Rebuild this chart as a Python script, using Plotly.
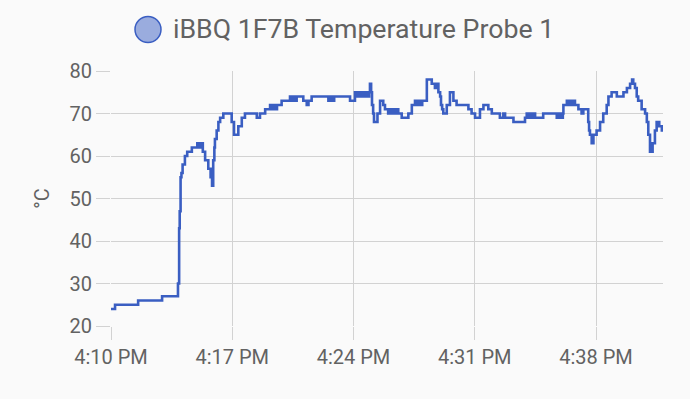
import pandas as pd
import plotly.graph_objects as go

# ---------------- data ----------------
start_time = "2024-05-18 16:10:00"
end_seconds = 1912  # last sample, seconds after start

seconds_after_start = [
    0, 14, 94, 177, 232, 236, 238, 241, 244, 248, 256, 264, 280,
    299, 303, 307, 311, 315, 318, 326, 337, 345, 350, 354, 358, 360,
    366, 372, 378, 389, 418, 426, 441, 453, 464, 505, 516, 534,
    551, 555, 559, 563, 567, 572, 575, 591,
    620, 624, 628, 632, 637, 641, 643, 666, 678, 684, 695,
    753, 757, 761, 765, 769, 773, 828,
    845, 849, 853, 857, 861, 866, 870, 874, 878, 882, 886, 890, 894,
    897, 901, 904, 908, 911, 923, 932, 943, 949,
    960, 965, 969, 973, 977, 981, 985, 990, 995,
    1007, 1030, 1042,
    1053, 1057, 1061, 1066, 1070, 1074, 1078, 1082,
    1094, 1111, 1116, 1122, 1127, 1134, 1140, 1143, 1147, 1151,
    1163, 1174, 1186, 1197, 1238, 1249, 1261, 1278, 1290, 1307, 1319,
    1347, 1359, 1365, 1394, 1434,
    1440, 1444, 1448, 1452, 1457, 1461, 1465, 1469, 1497,
    1544, 1548, 1552, 1556, 1560, 1565, 1567,
    1579, 1583, 1587, 1591, 1595, 1599, 1604, 1607,
    1619, 1630, 1636, 1653, 1656, 1659, 1665, 1671, 1682, 1694, 1705,
    1717, 1723, 1734, 1752, 1775, 1787, 1798, 1805, 1809, 1815, 1821,
    1826, 1838, 1850, 1856, 1861, 1867, 1876, 1884, 1890, 1899, 1908,
    1912,
]

temperature_c = [
    24, 25, 26, 27, 30, 43, 47, 55, 56, 58, 60, 61, 62,
    63, 62, 63, 62, 63, 61, 59, 57, 55, 53, 59, 62, 64,
    66, 68, 69, 70, 68, 65, 67, 69, 70, 69, 70, 71,
    72, 71, 72, 71, 72, 71, 72, 73,
    74, 73, 74, 73, 74, 73, 74, 73, 72, 73, 74,
    73, 74, 73, 74, 73, 74, 73,
    75, 74, 75, 74, 75, 74, 75, 74, 75, 74, 75, 74, 75,
    77, 75, 72, 70, 68, 70, 73, 72, 71,
    70, 71, 70, 71, 70, 71, 70, 71, 70,
    69, 70, 72,
    73, 72, 73, 72, 73, 72, 73, 73,
    78, 77, 77, 76, 77, 75, 74, 72, 71, 70,
    72, 75, 73, 72, 71, 70, 69, 71, 72, 71, 70,
    69, 70, 69, 68, 69,
    70, 69, 70, 69, 70, 69, 70, 69, 70,
    69, 70, 69, 70, 69, 70, 72,
    73, 72, 73, 72, 73, 72, 73, 72,
    71, 70, 71, 68, 66, 65, 63, 65, 66, 68, 70,
    72, 74, 75, 74, 75, 76, 77, 78, 77, 76, 74,
    73, 71, 70, 68, 65, 61, 63, 66, 68, 67, 66,
    66,
]

series_name = "iBBQ 1F7B Temperature Probe 1"
unit_label = "°C"
y_ticks = [20, 30, 40, 50, 60, 70, 80]

# ---------------- figure ----------------
t0 = pd.Timestamp(start_time)
times = [t0 + pd.Timedelta(seconds=s) for s in seconds_after_start]
t_end = t0 + pd.Timedelta(seconds=end_seconds)

LINE = "#3a5ec2"
GRID = "#d2d2d2"
TEXT = "#626262"
BG = "#fafafa"
FONT = "Roboto"

fig = go.Figure()
fig.add_trace(go.Scatter(
    x=times, y=temperature_c, mode="lines",
    line=dict(color=LINE, width=2.6, shape="hv"),
    name=series_name, showlegend=False,
))

W, H = 690, 399
L, R, T, B = 111, 27, 71, 73
pw = W - L - R
ph = H - T - B

def px_x(px):
    return (px - L) / pw

def px_y(py):
    return (T + ph - py) / ph

fig.update_layout(
    width=W, height=H,
    margin=dict(l=L, r=R, t=T, b=B),
    paper_bgcolor=BG, plot_bgcolor=BG,
    font=dict(family=FONT, color=TEXT, size=20),
    showlegend=False,
    xaxis=dict(
        type="date",
        range=[t0, t_end],
        tick0=t0, dtick=7 * 60 * 1000,
        tickformat="%-I:%M %p",
        showgrid=True, gridcolor=GRID, gridwidth=1,
        ticks="outside", ticklen=13, tickcolor=GRID, tickwidth=1,
        showline=False, zeroline=False,
        tickfont=dict(size=20, color=TEXT, family=FONT),
    ),
    yaxis=dict(
        range=[20, 80],
        tickvals=y_ticks,
        showgrid=True, gridcolor=GRID, gridwidth=1,
        ticks="outside", ticklen=14, tickcolor=GRID, tickwidth=1,
        showline=False, zeroline=False,
        tickfont=dict(size=20, color=TEXT, family=FONT),
        title=dict(text=unit_label, standoff=14,
                   font=dict(size=20, color=TEXT, family=FONT)),
    ),
)

# legend (circle + label)
cx, cy = 148, 29.5
fig.add_shape(
    type="circle", xref="paper", yref="paper",
    xsizemode="pixel", ysizemode="pixel",
    xanchor=px_x(cx), yanchor=px_y(cy),
    x0=-13, x1=13, y0=-13, y1=13,
    fillcolor="rgba(58,94,194,0.5)",
    line=dict(color=LINE, width=1.5),
)
fig.add_annotation(
    xref="paper", yref="paper",
    x=px_x(171), y=px_y(cy),
    xanchor="left", yanchor="middle",
    text=series_name, showarrow=False,
    font=dict(size=26.7, color=TEXT, family=FONT),
)

fig.write_html("out.html")
